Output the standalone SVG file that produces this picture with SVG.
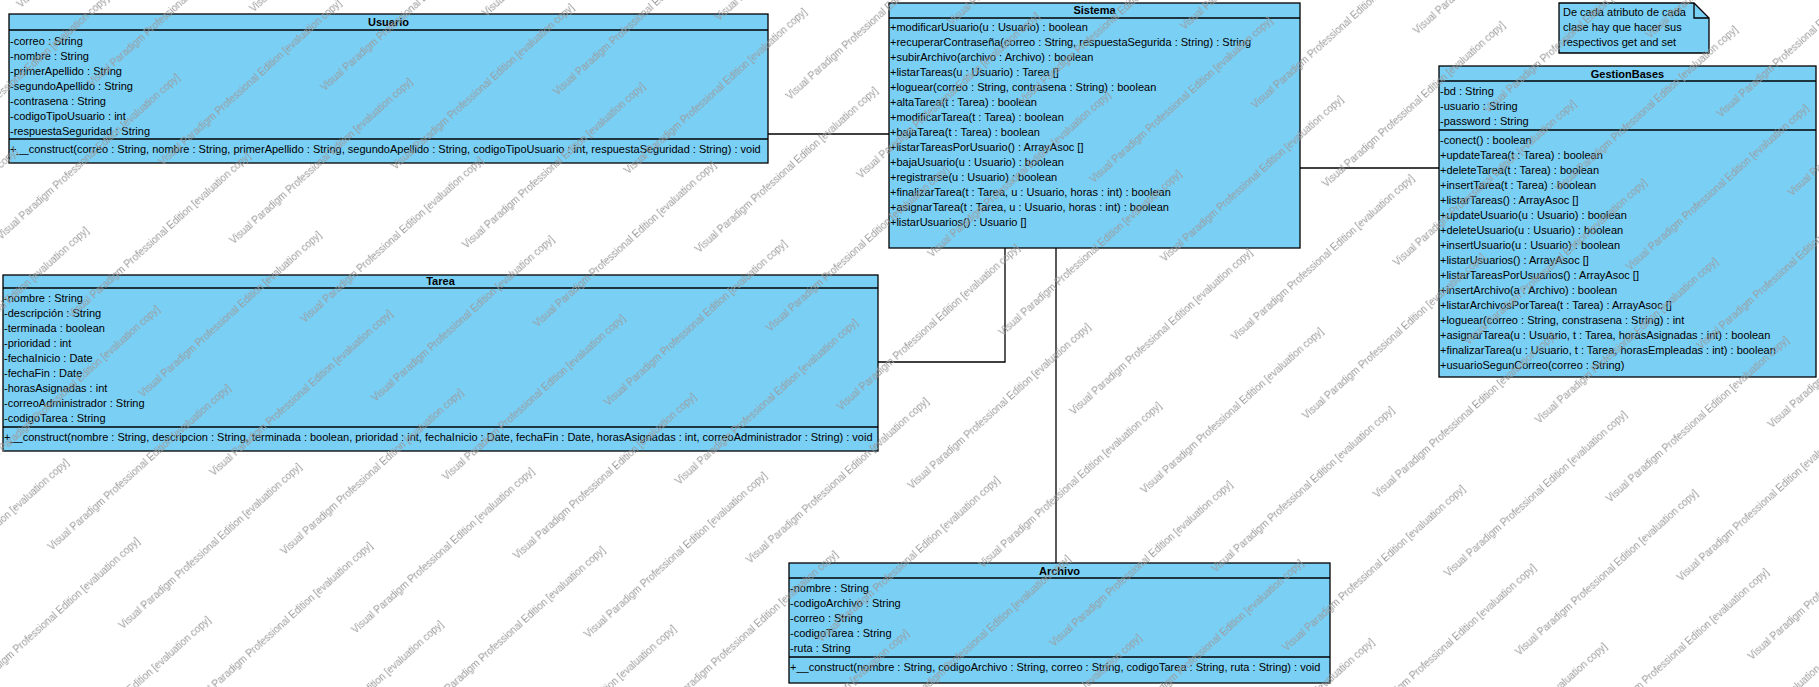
<svg xmlns="http://www.w3.org/2000/svg" width="1819" height="687" viewBox="0 0 1819 687">
<style>
.box{fill:#7ACFF5;stroke:#000;stroke-width:1.3}
.sep{stroke:#000;stroke-width:1.3}
.t{font-family:"Liberation Sans",Arial,sans-serif;font-size:11px;fill:#000}
.h{font-family:"Liberation Sans",Arial,sans-serif;font-size:11px;font-weight:bold;fill:#000;text-anchor:middle}
.c{fill:none;stroke:#000;stroke-width:1.3}
.wm{font-family:"Liberation Sans",Arial,sans-serif;font-size:10px;fill:#9a9a9a}
</style>
<defs>
<pattern id="wmp" patternUnits="userSpaceOnUse" width="340" height="106" patternTransform="rotate(-42)">
<text class="wm" x="10" y="20">Visual Paradigm Professional Edition [evaluation copy]</text>
<text class="wm" x="180" y="73">Visual Paradigm Professional Edition [evaluation copy]</text>
<text class="wm" x="-160" y="73">Visual Paradigm Professional Edition [evaluation copy]</text>
</pattern>
</defs>
<rect width="1819" height="687" fill="#fff"/>
<g id="connectors">
<line class="c" x1="768" y1="134" x2="889" y2="134"/>
<line class="c" x1="1300" y1="168" x2="1439" y2="168"/>
<polyline class="c" points="1005,248 1005,362 878,362"/>
<line class="c" x1="1056" y1="248" x2="1056" y2="563"/>
</g>
<g id="Usuario">
<rect class="box" x="9" y="14" width="759" height="149"/>
<line class="sep" x1="9" y1="30" x2="768" y2="30"/>
<line class="sep" x1="9" y1="139" x2="768" y2="139"/>
<text class="h" x="388.5" y="26">Usuario</text>
<text class="t" x="10" y="45">-correo : String</text>
<text class="t" x="10" y="60">-nombre : String</text>
<text class="t" x="10" y="75">-primerApellido : String</text>
<text class="t" x="10" y="90">-segundoApellido : String</text>
<text class="t" x="10" y="105">-contrasena : String</text>
<text class="t" x="10" y="120">-codigoTipoUsuario : int</text>
<text class="t" x="10" y="135">-respuestaSeguridad : String</text>
<text class="t" x="10" y="153">+__construct(correo : String, nombre : String, primerApellido : String, segundoApellido : String, codigoTipoUsuario : int, respuestaSeguridad : String) : void</text>
</g>
<g id="Sistema">
<rect class="box" x="889" y="3" width="411" height="245"/>
<line class="sep" x1="889" y1="18" x2="1300" y2="18"/>
<text class="h" x="1094.5" y="14">Sistema</text>
<text class="t" x="890" y="31">+modificarUsuario(u : Usuario) : boolean</text>
<text class="t" x="890" y="46">+recuperarContraseña(correo : String, respuestaSegurida : String) : String</text>
<text class="t" x="890" y="61">+subirArchivo(archivo : Archivo) : boolean</text>
<text class="t" x="890" y="76">+listarTareas(u : Usuario) : Tarea []</text>
<text class="t" x="890" y="91">+loguear(correo : String, contrasena : String) : boolean</text>
<text class="t" x="890" y="106">+altaTarea(t : Tarea) : boolean</text>
<text class="t" x="890" y="121">+modificarTarea(t : Tarea) : boolean</text>
<text class="t" x="890" y="136">+bajaTarea(t : Tarea) : boolean</text>
<text class="t" x="890" y="151">+listarTareasPorUsuario() : ArrayAsoc []</text>
<text class="t" x="890" y="166">+bajaUsuario(u : Usuario) : boolean</text>
<text class="t" x="890" y="181">+registrarse(u : Usuario) : boolean</text>
<text class="t" x="890" y="196">+finalizarTarea(t : Tarea, u : Usuario, horas : int) : boolean</text>
<text class="t" x="890" y="211">+asignarTarea(t : Tarea, u : Usuario, horas : int) : boolean</text>
<text class="t" x="890" y="226">+listarUsuarios() : Usuario []</text>
</g>
<g id="Nota">
<path class="box" d="M1559,3 H1694 L1709,18 V53 H1559 Z"/>
<path class="c" d="M1694,3 V18 H1709"/>
<text class="t" x="1563" y="16">De cada atributo de cada</text>
<text class="t" x="1563" y="31">clase hay que hacer sus</text>
<text class="t" x="1563" y="46">respectivos get and set</text>
</g>
<g id="GestionBases">
<rect class="box" x="1439" y="66" width="377" height="311"/>
<line class="sep" x1="1439" y1="81" x2="1816" y2="81"/>
<line class="sep" x1="1439" y1="130" x2="1816" y2="130"/>
<text class="h" x="1627.5" y="78">GestionBases</text>
<text class="t" x="1440" y="95">-bd : String</text>
<text class="t" x="1440" y="110">-usuario : String</text>
<text class="t" x="1440" y="125">-password : String</text>
<text class="t" x="1440" y="144">-conect() : boolean</text>
<text class="t" x="1440" y="159">+updateTarea(t : Tarea) : boolean</text>
<text class="t" x="1440" y="174">+deleteTarea(t : Tarea) : boolean</text>
<text class="t" x="1440" y="189">+insertTarea(t : Tarea) : boolean</text>
<text class="t" x="1440" y="204">+listarTareas() : ArrayAsoc []</text>
<text class="t" x="1440" y="219">+updateUsuario(u : Usuario) : boolean</text>
<text class="t" x="1440" y="234">+deleteUsuario(u : Usuario) : boolean</text>
<text class="t" x="1440" y="249">+insertUsuario(u : Usuario) : boolean</text>
<text class="t" x="1440" y="264">+listarUsuarios() : ArrayAsoc []</text>
<text class="t" x="1440" y="279">+listarTareasPorUsuarios() : ArrayAsoc []</text>
<text class="t" x="1440" y="294">+insertArchivo(a : Archivo) : boolean</text>
<text class="t" x="1440" y="309">+listarArchivosPorTarea(t : Tarea) : ArrayAsoc []</text>
<text class="t" x="1440" y="324">+loguear(correo : String, constrasena : String) : int</text>
<text class="t" x="1440" y="339">+asignarTarea(u : Usuario, t : Tarea, horasAsignadas : int) : boolean</text>
<text class="t" x="1440" y="354">+finalizarTarea(u : Usuario, t : Tarea, horasEmpleadas : int) : boolean</text>
<text class="t" x="1440" y="369">+usuarioSegunCorreo(correo : String)</text>
</g>
<g id="Tarea">
<rect class="box" x="3" y="275" width="875" height="176"/>
<line class="sep" x1="3" y1="288" x2="878" y2="288"/>
<line class="sep" x1="3" y1="427" x2="878" y2="427"/>
<text class="h" x="440.5" y="285">Tarea</text>
<text class="t" x="4" y="302">-nombre : String</text>
<text class="t" x="4" y="317">-descripción : String</text>
<text class="t" x="4" y="332">-terminada : boolean</text>
<text class="t" x="4" y="347">-prioridad : int</text>
<text class="t" x="4" y="362">-fechaInicio : Date</text>
<text class="t" x="4" y="377">-fechaFin : Date</text>
<text class="t" x="4" y="392">-horasAsignadas : int</text>
<text class="t" x="4" y="407">-correoAdministrador : String</text>
<text class="t" x="4" y="422">-codigoTarea : String</text>
<text class="t" x="4" y="441">+__construct(nombre : String, descripcion : String, terminada : boolean, prioridad : int, fechaInicio : Date, fechaFin : Date, horasAsignadas : int, correoAdministrador : String) : void</text>
</g>
<g id="Archivo">
<rect class="box" x="789" y="563" width="541" height="120"/>
<line class="sep" x1="789" y1="578" x2="1330" y2="578"/>
<line class="sep" x1="789" y1="657" x2="1330" y2="657"/>
<text class="h" x="1059.5" y="575">Archivo</text>
<text class="t" x="790" y="592">-nombre : String</text>
<text class="t" x="790" y="607">-codigoArchivo : String</text>
<text class="t" x="790" y="622">-correo : String</text>
<text class="t" x="790" y="637">-codigoTarea : String</text>
<text class="t" x="790" y="652">-ruta : String</text>
<text class="t" x="790" y="671">+__construct(nombre : String, codigoArchivo : String, correo : String, codigoTarea : String, ruta : String) : void</text>
</g>
<g id="watermark">
<rect width="1819" height="687" fill="url(#wmp)"/>
</g>
</svg>
